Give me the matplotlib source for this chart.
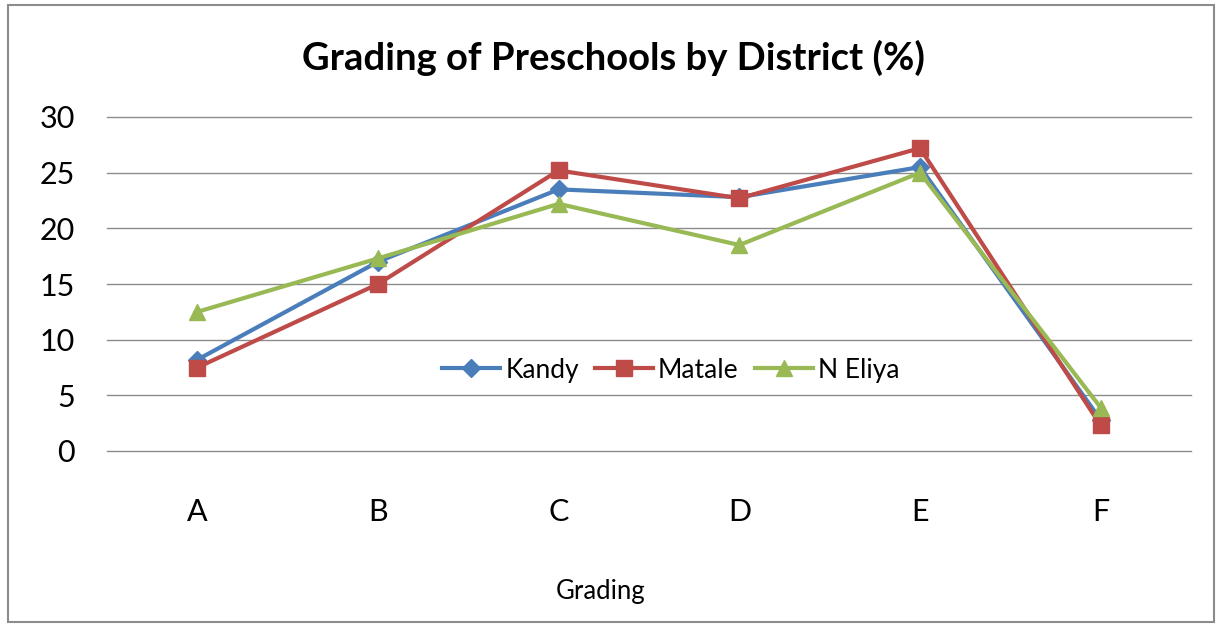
import matplotlib.pyplot as plt
from matplotlib.patches import Rectangle

# grade categories and district percentages
grades = ['A', 'B', 'C', 'D', 'E', 'F']
kandy = [8.2, 17.0, 23.5, 22.8, 25.5, 2.8]
matale = [7.5, 15.0, 25.2, 22.7, 27.2, 2.3]
n_eliya = [12.5, 17.3, 22.2, 18.5, 25.0, 3.9]

plt.rcParams['font.family'] = ['Lato', 'DejaVu Sans']

fig = plt.figure(figsize=(12.21, 6.25), dpi=100)
ax = fig.add_axes([107 / 1221, 1 - 451 / 625, 1084 / 1221, 334 / 625])

# outer chart border
fig.patches.append(Rectangle((8 / 1221, 3 / 625), 1206 / 1221, 617 / 625,
                             transform=fig.transFigure, fill=False,
                             edgecolor='#8c8c8c', linewidth=1.5))

x = range(len(grades))
ax.plot(x, kandy, color='#4A7EBB', linewidth=3, marker='D', markersize=9,
        label='Kandy')
ax.plot(x, matale, color='#BE4B48', linewidth=3, marker='s', markersize=12,
        label='Matale')
ax.plot(x, n_eliya, color='#98B954', linewidth=3, marker='^', markersize=12,
        label='N Eliya')

ax.set_xlim(-0.5, 5.5)
ax.set_ylim(0, 30)
ax.set_yticks(range(0, 31, 5))
ax.set_xticks(list(x))
ax.set_xticklabels(grades)
ax.yaxis.grid(True, color='#8c8c8c', linewidth=1)
for gl in ax.get_ygridlines():
    gl.set_clip_on(False)
ax.set_axisbelow(True)
for s in ['top', 'right', 'left', 'bottom']:
    ax.spines[s].set_visible(False)
ax.tick_params(axis='y', length=0, labelsize=22, pad=23, colors='black')
ax.tick_params(axis='x', length=0, labelsize=22, pad=34, colors='black')

ax.legend(loc='center', bbox_to_anchor=(0.52, 0.2425), ncol=3, frameon=False,
          fontsize=19, handlelength=2.2, handletextpad=0.2, columnspacing=0.6,
          borderpad=0)

fig.text(613 / 1221, 1 - 58 / 625, 'Grading of Preschools by District (%)',
         ha='center', va='center', fontsize=27.5, fontweight='bold')
fig.text(601 / 1221, 1 - 592 / 625, 'Grading', ha='center', va='center',
         fontsize=18.5)

fig.savefig('out.png', dpi=100)
